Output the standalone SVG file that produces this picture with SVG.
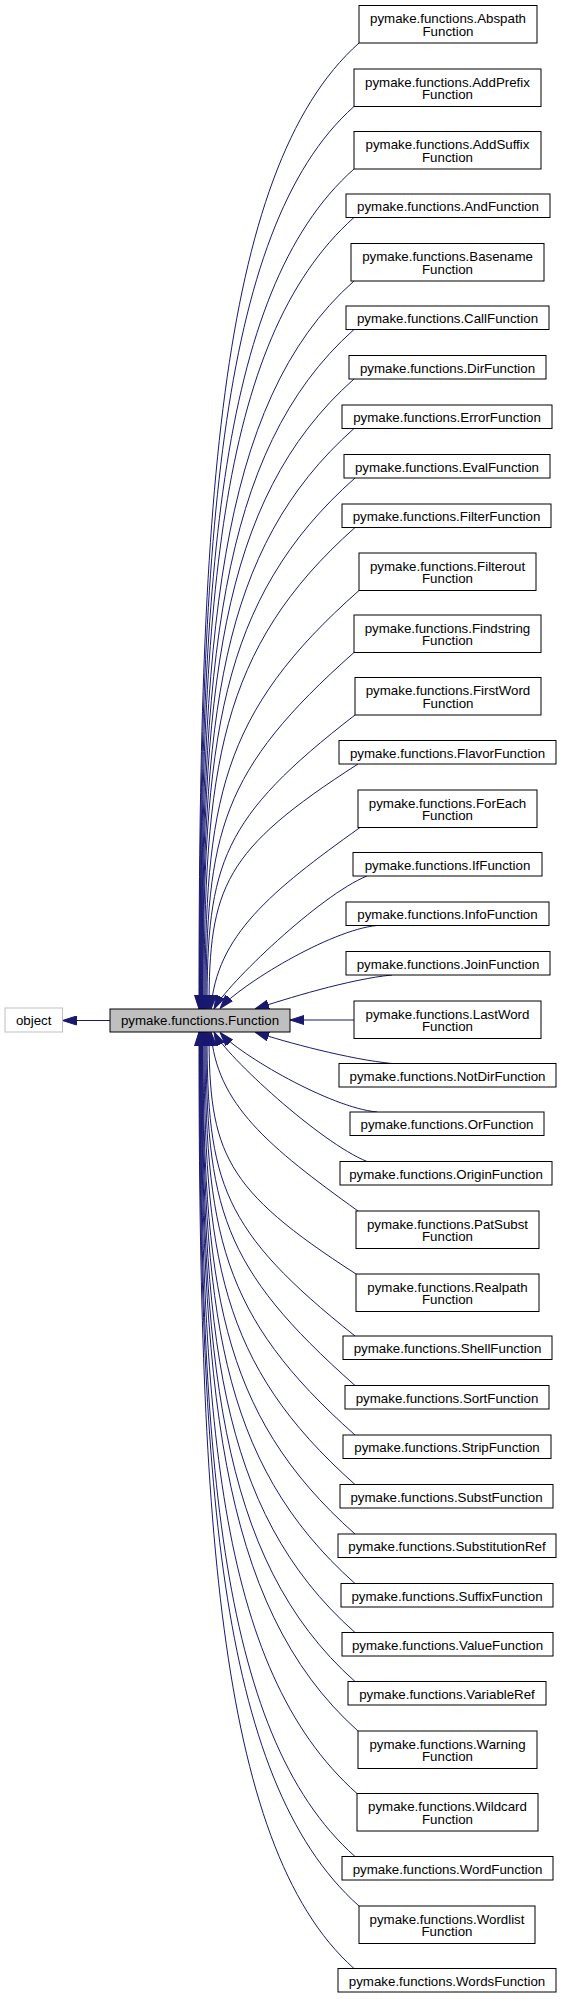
<svg xmlns="http://www.w3.org/2000/svg" width="563" height="1999" viewBox="0 0 563 1999">
<style>
.n rect{fill:#fff;stroke:#000;stroke-width:1}
text{font-family:"Liberation Sans",Arial,Helvetica,sans-serif;font-size:13.3px;text-anchor:middle;fill:#000}
#edges path{fill:none;stroke:#191970;stroke-width:1;marker-end:url(#ah)}
</style>
<defs>
<marker id="ah" viewBox="0 0 14 10" refX="14" refY="5" markerWidth="14" markerHeight="10" markerUnits="userSpaceOnUse" orient="auto">
<path d="M0,0.5 L14,5 L0,9.5 Z" fill="#191970" stroke="#191970" stroke-width="1"/>
</marker>
</defs>
<rect width="563" height="1999" fill="#fff"/>
<g id="edges">
<path d="M110,1020.5 L62.5,1020.5"/>
<path d="M359,43 C215,171 199,526 199,1009"/>
<path d="M354,106.5 C215,230 199.5,558 199.5,1009"/>
<path d="M354,169 C215,292 200,589 200,1009"/>
<path d="M354,217.5 C216,340.5 200.5,613 200.5,1009"/>
<path d="M354,281 C216,403 201,645 201,1009"/>
<path d="M354,329.5 C217,451.5 201.5,669 201.5,1009"/>
<path d="M354,379 C217,500.5 202,694 202,1009"/>
<path d="M354,428.5 C218,549.5 202.5,719 202.5,1009"/>
<path d="M355,478 C218,599.5 203,743.5 203,1009"/>
<path d="M355,527.5 C219,648.5 204,768 204,1009"/>
<path d="M359,590.5 C220,713.5 205,800 205,1009"/>
<path d="M354,652.5 C221,770.5 206,831 206,1009"/>
<path d="M355,715 C222,818 207,862 207,1009"/>
<path d="M358,764 C224,850 209,886.5 209,1009"/>
<path d="M360,827.5 C271,891 216,936 211,1009"/>
<path d="M367,876 C320,895 226,985 214,1009"/>
<path d="M377,925.5 C330,930 240,985 220,1008.5"/>
<path d="M392,975 C350,979 285,999 255,1009"/>
<path d="M354,1020 L290,1020"/>
<path d="M392,1063.5 C350,1059.5 285,1042 255,1032"/>
<path d="M377,1112 C330,1107.5 240,1055 220,1032.5"/>
<path d="M367,1161.5 C320,1142.5 226,1056 214,1032"/>
<path d="M358,1211 C269,1147 216,1104 211,1032"/>
<path d="M356,1274 C224,1189 209,1153 209,1032"/>
<path d="M355,1336 C222,1230 207,1184 207,1032"/>
<path d="M355,1385.5 C221,1266.5 206,1209 206,1032"/>
<path d="M355,1435 C220,1315 205,1233.5 205,1032"/>
<path d="M355,1484.5 C219,1363.5 204,1258 204,1032"/>
<path d="M355,1534 C218,1412.5 203,1283 203,1032"/>
<path d="M355,1583.5 C218,1461.5 202.5,1308 202.5,1032"/>
<path d="M355,1632.5 C217,1510 202,1332 202,1032"/>
<path d="M355,1681.5 C217,1558.5 201.5,1357 201.5,1032"/>
<path d="M358,1731 C217,1605 201,1381.5 201,1032"/>
<path d="M357,1793.5 C216,1668 200.5,1413 200.5,1032"/>
<path d="M355,1856.5 C215.5,1732.5 200,1444 200,1032"/>
<path d="M359,1906 C215.5,1778.5 199.5,1469 199.5,1032"/>
<path d="M354,1968.5 C214.5,1844.5 199,1500 199,1032"/>
</g>
<g id="object"><rect x="5" y="1008" width="57.5" height="24" fill="#fff" stroke="#bfbfbf"/><text x="33.7" y="1025.3">object</text></g>
<g id="function"><rect x="110" y="1009" width="180" height="23" fill="#bfbfbf" stroke="#000"/><text x="200" y="1025.3">pymake.functions.Function</text></g>
<g class="n" id="n0"><rect x="359" y="5.5" width="178" height="37.5"/><text x="448" y="23">pymake.functions.Abspath</text><text x="448" y="35.5">Function</text></g>
<g class="n" id="n1"><rect x="354" y="69" width="187" height="37.5"/><text x="447.5" y="86.5">pymake.functions.AddPrefix</text><text x="447.5" y="99">Function</text></g>
<g class="n" id="n2"><rect x="354" y="131.5" width="187" height="37.5"/><text x="447.5" y="149">pymake.functions.AddSuffix</text><text x="447.5" y="161.5">Function</text></g>
<g class="n" id="n3"><rect x="346" y="194" width="204" height="23.5"/><text x="448" y="211">pymake.functions.AndFunction</text></g>
<g class="n" id="n4"><rect x="351" y="243.5" width="193" height="37.5"/><text x="447.5" y="261">pymake.functions.Basename</text><text x="447.5" y="273.5">Function</text></g>
<g class="n" id="n5"><rect x="346" y="306" width="203" height="23.5"/><text x="447.5" y="323">pymake.functions.CallFunction</text></g>
<g class="n" id="n6"><rect x="349" y="355.5" width="197" height="23.5"/><text x="447.5" y="372.5">pymake.functions.DirFunction</text></g>
<g class="n" id="n7"><rect x="342" y="405" width="210" height="23.5"/><text x="447" y="422">pymake.functions.ErrorFunction</text></g>
<g class="n" id="n8"><rect x="344" y="454.5" width="206" height="23.5"/><text x="447" y="471.5">pymake.functions.EvalFunction</text></g>
<g class="n" id="n9"><rect x="342" y="504" width="209" height="23.5"/><text x="446.5" y="521">pymake.functions.FilterFunction</text></g>
<g class="n" id="n10"><rect x="359" y="553" width="177" height="37.5"/><text x="447.5" y="570.5">pymake.functions.Filterout</text><text x="447.5" y="583">Function</text></g>
<g class="n" id="n11"><rect x="354" y="615" width="187" height="37.5"/><text x="447.5" y="632.5">pymake.functions.Findstring</text><text x="447.5" y="645">Function</text></g>
<g class="n" id="n12"><rect x="355" y="677.5" width="186" height="37.5"/><text x="448" y="695">pymake.functions.FirstWord</text><text x="448" y="707.5">Function</text></g>
<g class="n" id="n13"><rect x="339" y="740.5" width="217" height="23.5"/><text x="447.5" y="757.5">pymake.functions.FlavorFunction</text></g>
<g class="n" id="n14"><rect x="358" y="790" width="179" height="37.5"/><text x="447.5" y="807.5">pymake.functions.ForEach</text><text x="447.5" y="820">Function</text></g>
<g class="n" id="n15"><rect x="353" y="852.5" width="189" height="23.5"/><text x="447.5" y="869.5">pymake.functions.IfFunction</text></g>
<g class="n" id="n16"><rect x="346" y="902" width="203" height="23.5"/><text x="447.5" y="919">pymake.functions.InfoFunction</text></g>
<g class="n" id="n17"><rect x="346" y="951.5" width="204" height="23.5"/><text x="448" y="968.5">pymake.functions.JoinFunction</text></g>
<g class="n" id="n18"><rect x="354" y="1001" width="187" height="37.5"/><text x="447.5" y="1018.5">pymake.functions.LastWord</text><text x="447.5" y="1031">Function</text></g>
<g class="n" id="n19"><rect x="339" y="1063.5" width="217" height="23.5"/><text x="447.5" y="1080.5">pymake.functions.NotDirFunction</text></g>
<g class="n" id="n20"><rect x="350" y="1112" width="194" height="23.5"/><text x="447" y="1129">pymake.functions.OrFunction</text></g>
<g class="n" id="n21"><rect x="340" y="1161.5" width="212" height="23.5"/><text x="446" y="1178.5">pymake.functions.OriginFunction</text></g>
<g class="n" id="n22"><rect x="356" y="1211" width="183" height="37.5"/><text x="447.5" y="1228.5">pymake.functions.PatSubst</text><text x="447.5" y="1241">Function</text></g>
<g class="n" id="n23"><rect x="356" y="1274" width="183" height="37.5"/><text x="447.5" y="1291.5">pymake.functions.Realpath</text><text x="447.5" y="1304">Function</text></g>
<g class="n" id="n24"><rect x="343" y="1336" width="209" height="23.5"/><text x="447.5" y="1353">pymake.functions.ShellFunction</text></g>
<g class="n" id="n25"><rect x="345" y="1385.5" width="204" height="23.5"/><text x="447" y="1402.5">pymake.functions.SortFunction</text></g>
<g class="n" id="n26"><rect x="343" y="1435" width="208" height="23.5"/><text x="447" y="1452">pymake.functions.StripFunction</text></g>
<g class="n" id="n27"><rect x="340" y="1484.5" width="213" height="23.5"/><text x="446.5" y="1501.5">pymake.functions.SubstFunction</text></g>
<g class="n" id="n28"><rect x="338" y="1534" width="218" height="23.5"/><text x="447" y="1551">pymake.functions.SubstitutionRef</text></g>
<g class="n" id="n29"><rect x="341" y="1583.5" width="212" height="23.5"/><text x="447" y="1600.5">pymake.functions.SuffixFunction</text></g>
<g class="n" id="n30"><rect x="342" y="1632.5" width="211" height="23.5"/><text x="447.5" y="1649.5">pymake.functions.ValueFunction</text></g>
<g class="n" id="n31"><rect x="348" y="1681.5" width="198" height="23.5"/><text x="447" y="1698.5">pymake.functions.VariableRef</text></g>
<g class="n" id="n32"><rect x="358" y="1731" width="179" height="37.5"/><text x="447.5" y="1748.5">pymake.functions.Warning</text><text x="447.5" y="1761">Function</text></g>
<g class="n" id="n33"><rect x="357" y="1793.5" width="181" height="37.5"/><text x="447.5" y="1811">pymake.functions.Wildcard</text><text x="447.5" y="1823.5">Function</text></g>
<g class="n" id="n34"><rect x="342" y="1856.5" width="211" height="23.5"/><text x="447.5" y="1873.5">pymake.functions.WordFunction</text></g>
<g class="n" id="n35"><rect x="359" y="1906" width="176" height="37.5"/><text x="447" y="1923.5">pymake.functions.Wordlist</text><text x="447" y="1936">Function</text></g>
<g class="n" id="n36"><rect x="338" y="1968.5" width="218" height="23.5"/><text x="447" y="1985.5">pymake.functions.WordsFunction</text></g>
</svg>
